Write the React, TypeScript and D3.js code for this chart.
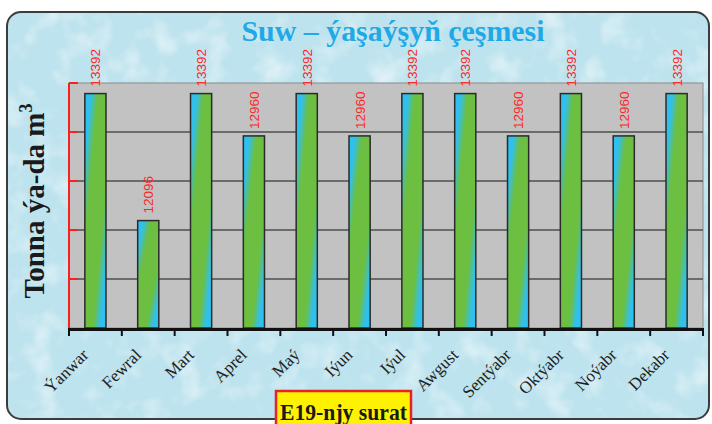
import React from 'react';
import * as d3 from 'd3';

const months = ['Ýanwar', 'Fewral', 'Mart', 'Aprel', 'Maý', 'Iýun', 'Iýul', 'Awgust', 'Sentýabr', 'Oktýabr', 'Noýabr', 'Dekabr'];
const values = [13392, 12096, 13392, 12960, 13392, 12960, 13392, 13392, 12960, 13392, 12960, 13392];
const yTicks = [11000, 11500, 12000, 12500, 13000, 13500];
const title = 'Suw – ýaşaýşyň çeşmesi';
const yTitle = 'Tonna ýa-da m';
const caption = 'E19-njy surat';

const W = 712, H = 424;
const plot = { left: 69, right: 703, top: 83, bottom: 328 };
const serif = '"Liberation Serif", "Times New Roman", serif';
const sans = '"Liberation Sans", Arial, sans-serif';

export default function App() {
  const x = d3.scaleBand<string>().domain(months).range([plot.left, plot.right]).paddingInner(0.6).paddingOuter(0.3);
  const xb = d3.scaleBand<string>().domain(months).range([plot.left, plot.right]).padding(0);
  const y = d3.scaleLinear().domain([yTicks[0], yTicks[yTicks.length - 1]]).range([plot.bottom, plot.top]);
  const bounds = [...months.map((m) => xb(m) as number), plot.right];

  return (
    <svg width={W} height={H} style={{ position: 'absolute', left: 0, top: 0 }}>
      <defs>
        <linearGradient id="barGrad" x1="0" y1="0" x2="1" y2="1">
          <stop offset="0" stopColor="#30c0ee" />
          <stop offset="0.14" stopColor="#30c0ee" />
          <stop offset="0.31" stopColor="#6cbf41" />
          <stop offset="0.69" stopColor="#6cbf41" />
          <stop offset="0.86" stopColor="#30c0ee" />
          <stop offset="1" stopColor="#30c0ee" />
        </linearGradient>
        <filter id="water" x="0" y="0" width="100%" height="100%">
          <feTurbulence type="fractalNoise" baseFrequency="0.035" numOctaves="3" seed="4" result="n" />
          <feColorMatrix in="n" type="matrix"
            values="0 0 0 0 1  0 0 0 0 1  0 0 0 0 1  0 0 0 1.6 -0.75" result="w" />
          <feComposite in="w" in2="SourceGraphic" operator="in" />
        </filter>
        <clipPath id="frameClip">
          <rect x={7} y={12} width={702} height={407} rx={14} />
        </clipPath>
      </defs>
      <rect x={0} y={0} width={W} height={H} fill="#ffffff" />
      <rect x={7} y={12} width={702} height={407} rx={14} fill="#bde3ee" />
      <g clipPath="url(#frameClip)">
        <rect x={7} y={12} width={702} height={407} fill="#ffffff" filter="url(#water)" opacity={0.75} />
      </g>
      <rect x={7} y={12} width={702} height={407} rx={14} fill="none" stroke="#3c3c3c" strokeWidth={2} />

      <text x={393} y={41} textAnchor="middle" fontFamily={serif} fontWeight="bold" fontSize={29}
        fill="#1fa9e6" textLength={303} lengthAdjust="spacingAndGlyphs">{title}</text>

      <rect x={plot.left} y={plot.top} width={plot.right - plot.left} height={plot.bottom - plot.top}
        fill="#c2c2c2" stroke="#8a8a8a" strokeWidth={1} />
      {yTicks.slice(1, -1).map((t) => (
        <line key={t} x1={plot.left} x2={plot.right} y1={y(t)} y2={y(t)} stroke="#4e4e4e" strokeWidth={1.5} />
      ))}

      {months.map((m, i) => (
        <rect key={m} x={x(m)} y={y(values[i])} width={x.bandwidth()} height={plot.bottom - y(values[i])}
          fill="url(#barGrad)" stroke="#2a2a2a" strokeWidth={1.5} />
      ))}

      {months.map((m, i) => {
        const cx = (x(m) as number) + x.bandwidth() / 2 + 5;
        const ty = y(values[i]) - 7;
        return (
          <text key={m} transform={`translate(${cx},${ty}) rotate(-90)`} fontFamily={sans} fontSize={13.5}
            fill="#ff2626">{values[i]}</text>
        );
      })}

      <line x1={plot.left} x2={plot.left} y1={plot.top} y2={plot.bottom + 1} stroke="#ff1e1e" strokeWidth={2} />
      {yTicks.slice(1).map((t) => (
        <line key={t} x1={plot.left} x2={plot.left + 9} y1={y(t)} y2={y(t)} stroke="#ff1e1e" strokeWidth={2} />
      ))}

      <line x1={plot.left - 1} x2={plot.right + 1} y1={plot.bottom + 1.5} y2={plot.bottom + 1.5} stroke="#111" strokeWidth={3} />
      {bounds.map((b, i) => (
        <line key={i} x1={b} x2={b} y1={plot.bottom} y2={plot.bottom + 8} stroke="#111" strokeWidth={2} />
      ))}

      {months.map((m) => {
        const ax = (xb(m) as number) + xb.bandwidth() / 2 - 6;
        const ay = plot.bottom + 28;
        return (
          <text key={m} transform={`translate(${ax},${ay}) rotate(-45)`} textAnchor="end" fontFamily={serif}
            fontSize={17} fill="#222">{m}</text>
        );
      })}

      <text transform={`translate(44,201) rotate(-90)`} textAnchor="middle" fontFamily={serif} fontWeight="bold"
        fontSize={29} fill="#1a1a1a">{yTitle}<tspan fontSize={18} dy={-12}>3</tspan></text>

      <rect x={276} y={391} width={135} height={40} fill="#fff200" stroke="#e8202a" strokeWidth={2.5} />
      <text x={343.5} y={420} textAnchor="middle" fontFamily={serif} fontWeight="bold" fontSize={23}
        fill="#1a1a1a" textLength={127} lengthAdjust="spacingAndGlyphs">{caption}</text>
    </svg>
  );
}
